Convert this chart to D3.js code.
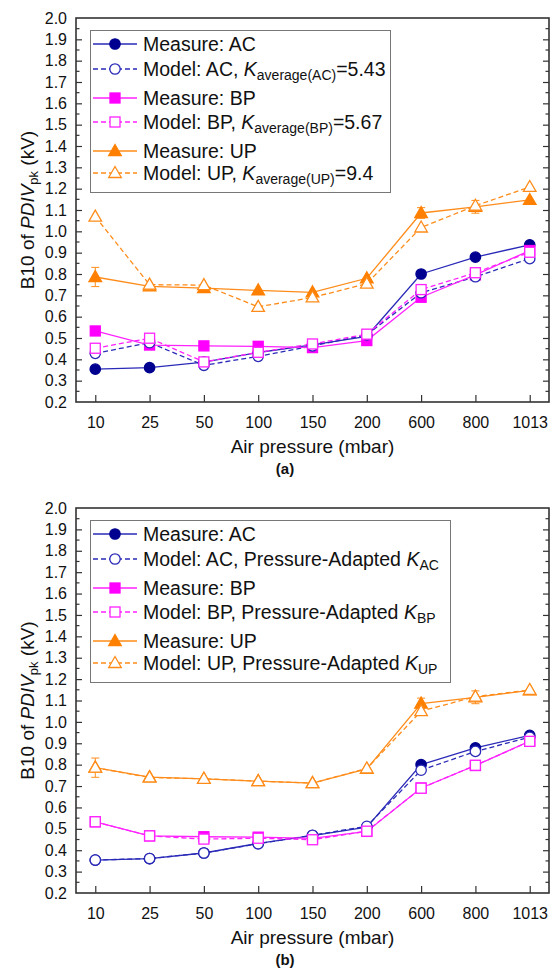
<!DOCTYPE html>
<html><head><meta charset="utf-8">
<script src="https://cdn.jsdelivr.net/npm/d3@7"></script>
<style>body{margin:0;background:#fff}text{font-family:"Liberation Sans",Arial,sans-serif;fill:#111}</style>
</head><body>
<svg id="c" width="555" height="971"></svg>
<script>
const categories = ["10","25","50","100","150","200","600","800","1013"];
const yTicks = [0.2,0.3,0.4,0.5,0.6,0.7,0.8,0.9,1.0,1.1,1.2,1.3,1.4,1.5,1.6,1.7,1.8,1.9,2.0];

const measAC = [0.354,0.361,0.387,0.432,0.468,0.508,0.800,0.879,0.937];
const measBP = [0.533,0.467,0.463,0.461,0.455,0.488,0.691,0.796,0.910];
const measUP = [0.786,0.742,0.734,0.723,0.714,0.780,1.086,1.115,1.147];
const errAC = [0.008,0.006,0.008,0.008,0.008,0.008,0.010,0.010,0.010];
const errBP = [0.020,0.008,0.008,0.008,0.008,0.008,0.010,0.010,0.012];
const errUP = [0.045,0.010,0.020,0.010,0.012,0.015,0.025,0.030,0.020];

const modelA_AC = [0.428,0.478,0.372,0.414,0.463,0.515,0.712,0.787,0.872];
const modelA_BP = [0.452,0.499,0.388,0.433,0.472,0.518,0.727,0.806,0.902];
const modelA_UP = [1.069,0.750,0.748,0.646,0.690,0.755,1.018,1.120,1.208];

const modelB_AC = [0.354,0.361,0.387,0.430,0.470,0.512,0.774,0.862,0.928];
const modelB_BP = [0.533,0.467,0.452,0.456,0.449,0.489,0.690,0.797,0.909];
const modelB_UP = [0.786,0.740,0.734,0.723,0.714,0.782,1.050,1.118,1.149];

const seriesNames = ["AC","BP","UP"];
const kAverage = ["5.43","5.67","9.4"];
const colors = {AC:"#000090", BP:"#ff00ff", UP:"#ff8000"};
const lineColors = {AC:"#2a2ab8", BP:"#ff22ff", UP:"#ff8c1a"};
const shapes = {AC:"circle", BP:"square", UP:"triangle"};

const svg = d3.select("#c");
const L = 76, R = 549;

function marker(g, shape, x, y, color, filled){
  let el;
  if(shape==="circle"){
    el = g.append("circle").attr("cx",x).attr("cy",y).attr("r",5.2);
  } else if(shape==="square"){
    el = g.append("rect").attr("x",x-5).attr("y",y-5).attr("width",10).attr("height",10);
  } else {
    el = g.append("path").attr("d",`M${x},${y-6.5}L${x+6.3},${y+4.5}L${x-6.3},${y+4.5}Z`);
  }
  el.attr("fill", filled?color:"#fff").attr("stroke",color).attr("stroke-width",1.3);
}

function panel(top, bottom, models, legendKind, legendRight, panelLabel){
  const g = svg.append("g");
  const x = d3.scalePoint().domain(categories).range([L,R]).padding(0.355);
  const y = d3.scaleLinear().domain([0.2,2.0]).range([bottom,top]);

  // minor ticks
  const minors = d3.range(0.25,2.0,0.1);
  const minorG = g.append("g");
  minors.forEach(v=>{
    minorG.append("line").attr("x1",L).attr("x2",L+3.5).attr("y1",y(v)).attr("y2",y(v)).attr("stroke","#333").attr("stroke-width",1.2);
    minorG.append("line").attr("x1",R).attr("x2",R-3.5).attr("y1",y(v)).attr("y2",y(v)).attr("stroke","#333").attr("stroke-width",1.2);
  });

  // left axis
  const ay = g.append("g").attr("transform",`translate(${L},0)`)
    .call(d3.axisLeft(y).tickValues(yTicks).tickFormat(d3.format(".1f")).tickSizeInner(-6).tickSizeOuter(0).tickPadding(9));
  ay.select(".domain").remove();
  ay.selectAll("line").attr("stroke","#333").attr("stroke-width",1.2);
  ay.selectAll("text").attr("font-size",16).attr("fill","#111").attr("font-family","Liberation Sans, Arial, sans-serif");
  ay.selectAll(".tick").filter(d=>d===0.2||d===2.0).select("line").remove();

  // right axis
  const ar = g.append("g").attr("transform",`translate(${R},0)`)
    .call(d3.axisRight(y).tickValues(yTicks.filter(d=>d>0.2&&d<2.0)).tickFormat("").tickSizeInner(-6).tickSizeOuter(0));
  ar.select(".domain").remove();
  ar.selectAll("line").attr("stroke","#333").attr("stroke-width",1.2);

  // bottom axis
  const ax = g.append("g").attr("transform",`translate(0,${bottom})`)
    .call(d3.axisBottom(x).tickSizeInner(-7).tickSizeOuter(0).tickPadding(15));
  ax.select(".domain").remove();
  ax.selectAll("line").attr("stroke","#333").attr("stroke-width",1.2);
  ax.selectAll("text").attr("font-size",16).attr("fill","#111").attr("font-family","Liberation Sans, Arial, sans-serif");

  // frame
  g.append("rect").attr("x",L).attr("y",top).attr("width",R-L).attr("height",bottom-top)
    .attr("fill","none").attr("stroke","#333").attr("stroke-width",1.6);

  // axis titles
  g.append("text").attr("x",(L+R)/2).attr("y",bottom+51).attr("text-anchor","middle").attr("font-size",19).text("Air pressure (mbar)");
  const yt = g.append("text").attr("transform",`translate(34,${(top+bottom)/2}) rotate(-90)`).attr("text-anchor","middle").attr("font-size",19);
  yt.append("tspan").text("B10 of ");
  yt.append("tspan").attr("font-style","italic").text("PDIV");
  yt.append("tspan").attr("font-size",13).attr("dy",4).text("pk");
  yt.append("tspan").attr("dy",-4).text(" (kV)");
  g.append("text").attr("x",285).attr("y",bottom+72).attr("text-anchor","middle").attr("font-size",15).attr("font-weight","bold").text(panelLabel);

  const meas = {AC:measAC, BP:measBP, UP:measUP};
  const errs = {AC:errAC, BP:errBP, UP:errUP};
  const line = d3.line().x((d,i)=>x(categories[i])).y(d=>y(d));

  seriesNames.forEach(s=>{
    g.append("path").attr("d",line(meas[s])).attr("fill","none").attr("stroke",lineColors[s]).attr("stroke-width",1.3);
    g.append("path").attr("d",line(models[s])).attr("fill","none").attr("stroke",lineColors[s]).attr("stroke-width",1.3).attr("stroke-dasharray","5,3");
  });
  seriesNames.forEach(s=>{
    meas[s].forEach((v,i)=>{
      const cx = x(categories[i]), e = errs[s][i];
      if(y(v-e)-y(v+e) > 10){
        g.append("line").attr("x1",cx).attr("x2",cx).attr("y1",y(v-e)).attr("y2",y(v+e)).attr("stroke",lineColors[s]).attr("stroke-width",1);
        [v-e,v+e].forEach(w=>g.append("line").attr("x1",cx-4).attr("x2",cx+4).attr("y1",y(w)).attr("y2",y(w)).attr("stroke",lineColors[s]).attr("stroke-width",1));
      }
    });
    meas[s].forEach((v,i)=>marker(g,shapes[s],x(categories[i]),y(v),colors[s],true));
  });
  seriesNames.forEach(s=>{
    models[s].forEach((v,i)=>marker(g,shapes[s],x(categories[i]),y(v),lineColors[s],false));
  });

  // legend
  const rows = [26,51,80,104,133,155];
  g.append("rect").attr("x",90.5).attr("y",top+12.5).attr("width",legendRight-90).attr("height",162)
    .attr("fill","#fff").attr("stroke","#777").attr("stroke-width",1);
  seriesNames.forEach((s,k)=>{
    const r1 = top+rows[2*k], r2 = top+rows[2*k+1];
    g.append("line").attr("x1",93).attr("x2",137).attr("y1",r1).attr("y2",r1).attr("stroke",lineColors[s]).attr("stroke-width",1.3);
    marker(g,shapes[s],115,r1,colors[s],true);
    g.append("text").attr("x",143).attr("y",r1+7).attr("font-size",19.5).text("Measure: "+s);
    g.append("line").attr("x1",93).attr("x2",137).attr("y1",r2).attr("y2",r2).attr("stroke",lineColors[s]).attr("stroke-width",1.3).attr("stroke-dasharray","5,3");
    marker(g,shapes[s],115,r2,lineColors[s],false);
    const t = g.append("text").attr("x",143).attr("y",r2+7).attr("font-size",19.5);
    if(legendKind==="avg"){
      t.append("tspan").text("Model: "+s+", ");
      t.append("tspan").attr("font-style","italic").text("K");
      t.append("tspan").attr("font-size",14).attr("dy",4).text("average("+s+")");
      t.append("tspan").attr("dy",-4).text("="+kAverage[k]);
    } else {
      t.append("tspan").text("Model: "+s+", Pressure-Adapted ");
      t.append("tspan").attr("font-style","italic").text("K");
      t.append("tspan").attr("font-size",14).attr("dy",4).text(s);
    }
  });
}

panel(18, 402, {AC:modelA_AC, BP:modelA_BP, UP:modelA_UP}, "avg", 390, "(a)");
panel(508, 893, {AC:modelB_AC, BP:modelB_BP, UP:modelB_UP}, "adapted", 450, "(b)");
</script>
</body></html>
